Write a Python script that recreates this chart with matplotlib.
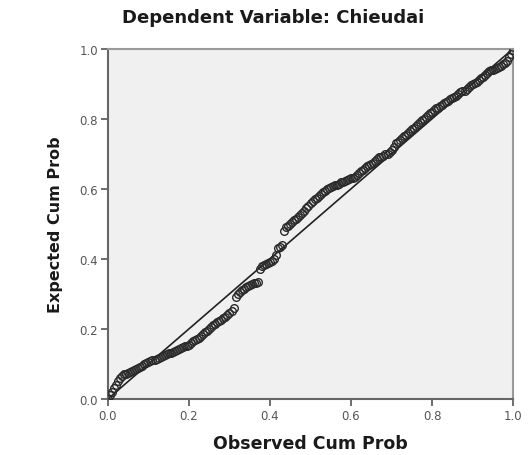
import matplotlib
matplotlib.use("Agg")
import matplotlib.pyplot as plt

# Normal P-P plot of regression standardized residual
observed_a = [
    0.00, 0.01, 0.02, 0.03, 0.04, 0.05, 0.06, 0.07, 0.08, 0.09,
    0.10, 0.11, 0.12, 0.13, 0.14, 0.15, 0.16, 0.17, 0.18, 0.19,
    0.20, 0.21, 0.22, 0.23, 0.24, 0.25, 0.26, 0.27, 0.28, 0.29,
    0.30, 0.31, 0.32, 0.33, 0.34, 0.35, 0.36, 0.37, 0.38, 0.39,
    0.40, 0.41, 0.42, 0.43, 0.44, 0.45, 0.46, 0.47, 0.48, 0.49,
    0.50, 0.51, 0.52, 0.53, 0.54, 0.55, 0.56, 0.57, 0.58, 0.59,
    0.60, 0.61, 0.62, 0.63, 0.64, 0.65, 0.66, 0.67, 0.68, 0.69,
    0.70, 0.71, 0.72, 0.73, 0.74, 0.75, 0.76, 0.77, 0.78, 0.79,
    0.80, 0.81, 0.82, 0.83, 0.84, 0.85, 0.86, 0.87, 0.88, 0.89,
    0.90, 0.91, 0.92, 0.93, 0.94, 0.95, 0.96, 0.97, 0.98, 0.99,
    1.00,
]
expected_a = [
    0.000, 0.020, 0.040, 0.060, 0.070, 0.075, 0.080, 0.085, 0.090, 0.100,
    0.105, 0.110, 0.115, 0.120, 0.125, 0.130, 0.135, 0.140, 0.145, 0.150,
    0.155, 0.165, 0.170, 0.180, 0.190, 0.200, 0.210, 0.220, 0.225, 0.235,
    0.245, 0.260, 0.300, 0.310, 0.320, 0.325, 0.330, 0.335, 0.380, 0.385,
    0.390, 0.400, 0.430, 0.440, 0.490, 0.500, 0.510, 0.520, 0.530, 0.545,
    0.560, 0.570, 0.580, 0.590, 0.600, 0.605, 0.610, 0.615, 0.620, 0.625,
    0.630, 0.635, 0.645, 0.655, 0.665, 0.670, 0.680, 0.690, 0.695, 0.700,
    0.710, 0.730, 0.740, 0.750, 0.760, 0.770, 0.780, 0.790, 0.800, 0.810,
    0.820, 0.830, 0.835, 0.845, 0.850, 0.860, 0.865, 0.875, 0.880, 0.890,
    0.900, 0.905, 0.915, 0.925, 0.935, 0.940, 0.945, 0.950, 0.960, 0.975,
    0.995,
]
observed_b = [
    0.005, 0.015, 0.025, 0.035, 0.045, 0.055, 0.065, 0.075, 0.085, 0.095,
    0.105, 0.115, 0.125, 0.135, 0.145, 0.155, 0.165, 0.175, 0.185, 0.195,
    0.205, 0.215, 0.225, 0.235, 0.245, 0.255, 0.265, 0.275, 0.285, 0.295,
    0.305, 0.315, 0.325, 0.335, 0.345, 0.355, 0.365, 0.375, 0.385, 0.395,
    0.405, 0.415, 0.425, 0.435, 0.445, 0.455, 0.465, 0.475, 0.485, 0.495,
    0.505, 0.515, 0.525, 0.535, 0.545, 0.555, 0.565, 0.575, 0.585, 0.595,
    0.605, 0.615, 0.625, 0.635, 0.645, 0.655, 0.665, 0.675, 0.685, 0.695,
    0.705, 0.715, 0.725, 0.735, 0.745, 0.755, 0.765, 0.775, 0.785, 0.795,
    0.805, 0.815, 0.825, 0.835, 0.845, 0.855, 0.865, 0.875, 0.885, 0.895,
    0.905, 0.915, 0.925, 0.935, 0.945, 0.955, 0.965, 0.975, 0.985, 0.995,
]
expected_b = [
    0.010, 0.030, 0.050, 0.065, 0.072, 0.078, 0.083, 0.088, 0.095, 0.102,
    0.108, 0.112, 0.118, 0.122, 0.128, 0.132, 0.138, 0.142, 0.148, 0.152,
    0.160, 0.168, 0.175, 0.185, 0.195, 0.205, 0.215, 0.222, 0.230, 0.240,
    0.250, 0.290, 0.305, 0.315, 0.322, 0.328, 0.332, 0.370, 0.382, 0.388,
    0.395, 0.410, 0.435, 0.480, 0.495, 0.505, 0.515, 0.525, 0.538, 0.552,
    0.565, 0.575, 0.585, 0.595, 0.602, 0.608, 0.612, 0.618, 0.622, 0.628,
    0.632, 0.640, 0.650, 0.660, 0.668, 0.675, 0.685, 0.692, 0.698, 0.705,
    0.720, 0.735, 0.745, 0.755, 0.765, 0.775, 0.785, 0.795, 0.805, 0.815,
    0.825, 0.832, 0.840, 0.848, 0.855, 0.862, 0.870, 0.878, 0.885, 0.895,
    0.902, 0.910, 0.920, 0.930, 0.938, 0.942, 0.948, 0.955, 0.965, 0.985,
]
ticks = [0.0, 0.2, 0.4, 0.6, 0.8, 1.0]
tick_labels = ["0.0", "0.2", "0.4", "0.6", "0.8", "1.0"]

fig = plt.figure(figsize=(5.29, 4.56), dpi=100)
ax = fig.add_axes([0.204, 0.123, 0.766, 0.768])
ax.set_facecolor("#f0f0f0")

ax.plot([0, 1], [0, 1], color="#222222", lw=1.2, zorder=2)
for obs, exp in [(observed_a, expected_a), (observed_b, expected_b)]:
    ax.plot(obs, exp, linestyle="none", marker="o", ms=5.5,
            mfc="none", mec="#2a2a2a", mew=1.0, zorder=3)

ax.set_xlim(0, 1)
ax.set_ylim(0, 1)
ax.set_xticks(ticks)
ax.set_xticklabels(tick_labels)
ax.set_yticks(ticks)
ax.set_yticklabels(tick_labels)
ax.tick_params(direction="out", length=5, width=1.2, color="#555555",
               labelsize=8.5, labelcolor="#555555", pad=2)
for side, s in ax.spines.items():
    s.set_color("#666666" if side in ("left", "bottom") else "#999999")
    s.set_linewidth(1.5)

ax.set_xlabel("Observed Cum Prob", fontsize=12.5, fontweight="bold",
              color="#1a1a1a", labelpad=9)
ax.set_ylabel("Expected Cum Prob", fontsize=11.5, fontweight="bold",
              color="#1a1a1a", labelpad=12)
fig.text(0.516, 0.96, "Dependent Variable: Chieudai", ha="center",
         va="center", fontsize=13, fontweight="bold", color="#1a1a1a")

fig.savefig("out.png", dpi=100)
